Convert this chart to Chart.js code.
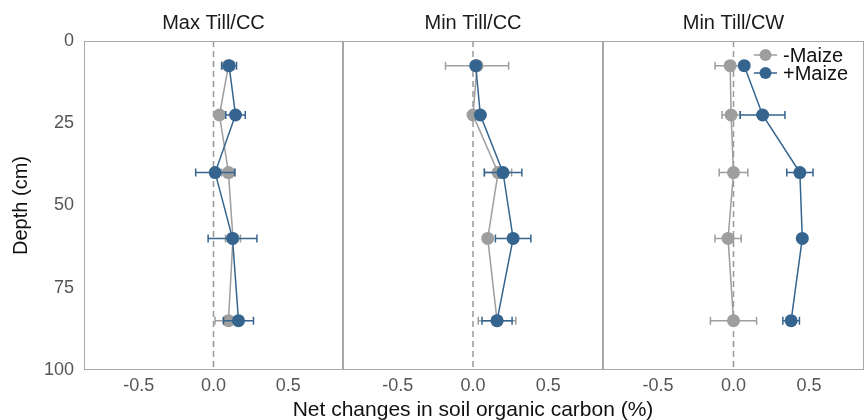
<!DOCTYPE html>
<html>
<head>
<meta charset="utf-8">
<script src="https://cdn.jsdelivr.net/npm/chart.js@4.4.0/dist/chart.umd.min.js"></script>
<style>
body { margin: 0; background: #fff; }
#wrap { position: relative; width: 864px; height: 420px; overflow: hidden; }
canvas { position: absolute; top: 0; left: 0; }
</style>
</head>
<body>
<div id="wrap">
  <canvas id="p1" width="864" height="420"></canvas>
  <canvas id="p2" width="864" height="420"></canvas>
  <canvas id="p3" width="864" height="420"></canvas>
</div>
<script>
// depth of each sampled layer (cm)
var depths = [7.5, 22.5, 40, 60, 85];
var panelNames = ['Max Till/CC', 'Min Till/CC', 'Min Till/CW'];
var xTicks = [-0.5, 0, 0.5];
var yTicks = [0, 25, 50, 75, 100];
var zeroX = 0;

// -Maize (grey)
var minusMaize1 = [0.10, 0.04, 0.10, 0.13, 0.10];
var minusErr1   = [0.04, 0.03, 0.045, 0.05, 0.09];
var minusMaize2 = [0.027, 0.0, 0.167, 0.098, 0.16];
var minusErr2   = [0.21, 0.025, 0.09, 0.02, 0.125];
var minusMaize3 = [-0.022, -0.016, 0.0, -0.036, 0.0];
var minusErr3   = [0.1, 0.06, 0.095, 0.087, 0.153];

// +Maize (blue)
var plusMaize1 = [0.104, 0.147, 0.011, 0.127, 0.167];
var plusErr1   = [0.05, 0.065, 0.13, 0.163, 0.1];
var plusMaize2 = [0.018, 0.049, 0.2, 0.267, 0.16];
var plusErr2   = [0.02, 0.02, 0.125, 0.118, 0.1];
var plusMaize3 = [0.071, 0.193, 0.44, 0.456, 0.382];
var plusErr3   = [0.02, 0.148, 0.087, 0.02, 0.055];

var grey = '#9e9e9e';
var blue = '#35658f';
var fontFam = "'Liberation Sans', Arial, sans-serif";

function toPoints(vals) {
    return vals.map(function(v, i) { return {x: v, y: depths[i]}; });
}

// horizontal error bars, drawn just before their own series
var errorBars = {
    id: 'errorBars',
    beforeDatasetDraw: function(chart, args) {
        var ds = chart.data.datasets[args.index];
        if (!ds.errors) return;
        var xs = chart.scales.x, ys = chart.scales.y, ctx = chart.ctx;
        ctx.save();
        ctx.strokeStyle = ds.borderColor;
        ctx.lineWidth = 1.5;
        ds.data.forEach(function(p, i) {
            var x1 = xs.getPixelForValue(p.x - ds.errors[i]);
            var x2 = xs.getPixelForValue(p.x + ds.errors[i]);
            var y = ys.getPixelForValue(p.y);
            ctx.beginPath();
            ctx.moveTo(x1, y); ctx.lineTo(x2, y);
            ctx.moveTo(x1, y - 4); ctx.lineTo(x1, y + 4);
            ctx.moveTo(x2, y - 4); ctx.lineTo(x2, y + 4);
            ctx.stroke();
        });
        ctx.restore();
    }
};

// grey box round each panel + the shared x title under the middle one
var frame = {
    id: 'frame',
    afterDraw: function(chart, args, opts) {
        var a = chart.chartArea, ctx = chart.ctx;
        ctx.save();
        ctx.strokeStyle = '#a8a8a8';
        ctx.lineWidth = 1;
        ctx.strokeRect(a.left + 0.5, a.top + 0.5, a.right - a.left - 1, a.bottom - a.top - 1);
        if (opts.xTitle) {
            ctx.font = '21px ' + fontFam;
            ctx.fillStyle = '#111';
            ctx.textAlign = 'center';
            ctx.textBaseline = 'middle';
            ctx.fillText(opts.xTitle, (a.left + a.right) / 2, 410);
        }
        ctx.restore();
    }
};

// legend in the top right of the last panel: line + dot + label
var cornerLegend = {
    id: 'cornerLegend',
    afterDraw: function(chart, args, opts) {
        if (!opts.show) return;
        var a = chart.chartArea, ctx = chart.ctx;
        var items = [chart.data.datasets[1], chart.data.datasets[0]];
        ctx.save();
        ctx.font = '20px ' + fontFam;
        ctx.textBaseline = 'middle';
        items.forEach(function(ds, i) {
            var y = a.top + 14 + i * 18;
            var x0 = a.left + 151;
            ctx.strokeStyle = ds.borderColor;
            ctx.lineWidth = 1.5;
            ctx.beginPath();
            ctx.moveTo(x0, y); ctx.lineTo(x0 + 23, y);
            ctx.stroke();
            ctx.fillStyle = ds.backgroundColor;
            ctx.beginPath();
            ctx.arc(x0 + 11.5, y, 6, 0, Math.PI * 2);
            ctx.fill();
            ctx.fillStyle = '#111';
            ctx.fillText(ds.label, x0 + 29, y + 1);
        });
        ctx.restore();
    }
};

function makePanel(id, name, minusVals, minusErr, plusVals, plusErr, padL, padR, first, middle, last) {
    var ctx = document.getElementById(id).getContext('2d');
    return new Chart(ctx, {
        type: 'line',
        data: {
            datasets: [{
                label: '+Maize',
                data: toPoints(plusVals),
                errors: plusErr,
                borderColor: blue,
                backgroundColor: blue,
                borderWidth: 1.5,
                pointRadius: 6.5,
                pointBorderWidth: 0,
                pointHoverRadius: 6.5
            }, {
                label: '-Maize',
                data: toPoints(minusVals),
                errors: minusErr,
                borderColor: grey,
                backgroundColor: grey,
                borderWidth: 1.5,
                pointRadius: 6.5,
                pointBorderWidth: 0,
                pointHoverRadius: 6.5
            }, {
                label: 'zero',
                data: [{x: zeroX, y: yTicks[0]}, {x: zeroX, y: yTicks[yTicks.length - 1]}],
                borderColor: '#999999',
                borderWidth: 1.5,
                borderDash: [6, 4],
                pointRadius: 0
            }]
        },
        options: {
            responsive: false,
            animation: false,
            events: [],
            layout: { autoPadding: false, padding: { left: padL, right: padR, top: 0, bottom: 0 } },
            plugins: {
                legend: { display: false },
                tooltip: { enabled: false },
                title: {
                    display: true,
                    text: name,
                    fullSize: false,
                    color: '#1a1a1a',
                    font: { family: fontFam, size: 20, weight: 'normal' },
                    padding: { top: 11, bottom: 6 }
                },
                frame: { xTitle: middle ? 'Net changes in soil organic carbon (%)' : '' },
                cornerLegend: { show: last }
            },
            scales: {
                x: {
                    type: 'linear',
                    min: -0.865,
                    max: 0.865,
                    afterBuildTicks: function(s) { s.ticks = xTicks.map(function(v) { return {value: v}; }); },
                    afterFit: function(s) { s.height = 50; s.paddingLeft = 0; s.paddingRight = 0; },
                    grid: { display: false, drawTicks: false },
                    border: { display: false },
                    ticks: {
                        color: '#555',
                        padding: 5,
                        font: { family: fontFam, size: 18 },
                        callback: function(v) { return v.toFixed(1); }
                    }
                },
                y: {
                    type: 'linear',
                    display: first,
                    reverse: true,
                    min: 0,
                    max: 100,
                    afterBuildTicks: function(s) { s.ticks = yTicks.map(function(v) { return {value: v}; }); },
                    afterFit: function(s) { if (first) s.width = 84; },
                    grid: { display: false, drawTicks: false },
                    border: { display: false },
                    ticks: {
                        color: '#555',
                        padding: 10,
                        font: { family: fontFam, size: 18 }
                    },
                    title: {
                        display: true,
                        text: 'Depth (cm)',
                        color: '#111',
                        font: { family: fontFam, size: 20 },
                        padding: { top: 9, bottom: 0 }
                    }
                }
            }
        },
        plugins: [errorBars, frame, cornerLegend]
    });
}

makePanel('p1', panelNames[0], minusMaize1, minusErr1, plusMaize1, plusErr1, 0, 521, true, false, false);
makePanel('p2', panelNames[1], minusMaize2, minusErr2, plusMaize2, plusErr2, 343, 261, false, true, false);
makePanel('p3', panelNames[2], minusMaize3, minusErr3, plusMaize3, plusErr3, 603, 0, false, false, true);
</script>
</body>
</html>
